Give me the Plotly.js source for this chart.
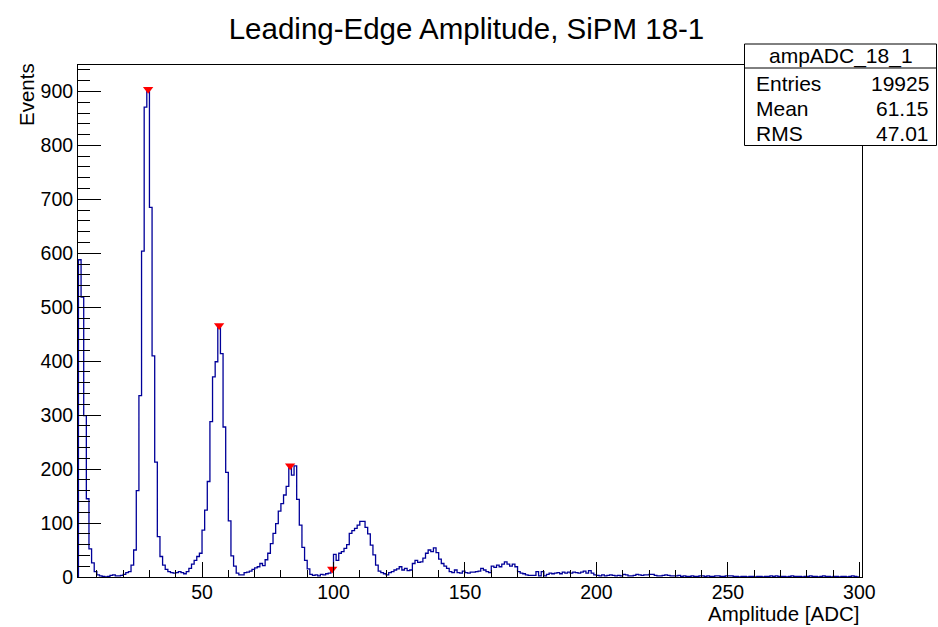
<!DOCTYPE html>
<html>
<head>
<meta charset="utf-8">
<script src="https://cdn.plot.ly/plotly-3.0.1.min.js"></script>
<style>
  html, body { margin: 0; padding: 0; background: #fff; }
  #chart { width: 938px; height: 627px; }
</style>
</head>
<body>
<div id="chart"></div>
<script>
// ---------------- data (1-ADC bins, first bin starts at ADC 3) ----------------
const firstBin = 3;
// ADC 3-21 : pedestal
const pedestalCounts = [588, 519, 299, 145, 52, 26, 10, 4, 2, 1, 0, 1, 3, 4, 2, 2, 3, 5, 8];
// ADC 22-37 : first photo-electron peak
const peak1Counts = [10, 22, 50, 160, 336, 604, 871, 901, 685, 410, 213, 75, 38, 22, 14, 10];
// ADC 38-49 : valley
const valley1Counts = [8, 7, 8, 10, 8, 6, 10, 16, 24, 31, 38, 44];
// ADC 50-62 : second peak
const peak2Counts = [87, 124, 177, 288, 371, 399, 465, 414, 278, 194, 104, 39, 20];
// ADC 63-69 : valley
const valley2Counts = [7, 4, 4, 8, 9, 11, 14];
// ADC 70-91 : third peak
const peak3Counts = [17, 19, 25, 21, 32, 44, 62, 81, 99, 122, 136, 152, 168, 204, 189, 206, 144, 96, 55, 31, 15, 5];
// ADC 92-99 : valley
const valley3Counts = [3, 4, 2, 5, 4, 6, 7, 14];
// ADC 100-117 : fourth peak
const peak4Counts = [42, 31, 44, 47, 53, 60, 81, 86, 90, 96, 103, 103, 92, 80, 59, 41, 22, 11];
// ADC 118-147 : fifth peak
const peak5Counts = [8, 6, 4, 8, 10, 13, 15, 19, 13, 16, 12, 13, 25, 31, 27, 28, 35, 44, 50, 47,
                     54, 45, 33, 25, 20, 16, 10, 8, 13, 8];
// ADC 148-199 : sixth peak and tail
const peak6Counts = [7, 11, 8, 7, 9, 9, 10, 11, 16, 13,
                     10, 8, 20, 18, 22, 19, 24, 28, 24, 20,
                     24, 19, 10, 7, 6, 4, 3, 3, 3, 10,
                     2, 10, 2, 5, 7, 6, 7, 8, 6, 9,
                     7, 9, 7, 9, 8, 7, 9, 11, 7, 12,
                     7, 4];
// ADC 200-299 : far tail
const tailCounts = [3, 2, 4, 2, 3, 4, 3, 2, 3, 2,
                    5, 4, 2, 2, 3, 5, 4, 3, 4, 4,
                    5, 5, 3, 2, 2, 3, 4, 3, 2, 2,
                    2, 3, 1, 2, 1, 1, 2, 1, 1, 2,
                    2, 1, 2, 1, 1, 2, 2, 1, 1, 2,
                    2, 2, 1, 1, 0, 1, 1, 0, 1, 1,
                    0, 1, 1, 0, 1, 1, 2, 1, 2, 1,
                    1, 1, 0, 1, 2, 1, 1, 1, 0, 1,
                    1, 2, 1, 1, 0, 1, 2, 1, 1, 0,
                    1, 1, 0, 1, 1, 0, 1, 2, 1, 0];

// peak-finder markers
const peakX = [29.5, 56.5, 83.5, 99.5];
const peakY = [904, 466, 206, 15];

// stats box texts
const statsName = 'ampADC_18_1';
const statsLabels = ['Entries', 'Mean', 'RMS'];
const statsValues = ['19925', '61.15', '47.01'];

// x tick values / y tick step
const xTickStep = 50;
const yTickStep = 100;

// ---------------- build histogram outline ----------------
const counts = [].concat(pedestalCounts, peak1Counts, valley1Counts, peak2Counts, valley2Counts,
  peak3Counts, valley3Counts, peak4Counts, peak5Counts, peak6Counts, tailCounts);
const hx = [firstBin], hy = [0];
for (let i = 0; i < counts.length; i++) { hx.push(firstBin + i); hy.push(counts[i]); }
hx.push(firstBin + counts.length); hy.push(counts[counts.length - 1]);
hx.push(firstBin + counts.length); hy.push(0);

// ---------------- layout helpers (pixel -> paper) ----------------
const W = 938, H = 627;
const L = 78, R = 862, T = 65, B = 577;
const px = x => (x - L) / (R - L);
const py = y => (B - y) / (B - T);
const FONT = 'Liberation Sans, Arial, Helvetica, sans-serif';

const traces = [
  { x: hx, y: hy, type: 'scatter', mode: 'lines',
    line: { shape: 'hv', color: '#000099', width: 1.3 }, hoverinfo: 'skip', showlegend: false },
  { x: peakX, y: peakY, type: 'scatter', mode: 'markers',
    marker: { symbol: 'triangle-down', size: 9, color: '#ff0000', line: { width: 0 } },
    cliponaxis: false, hoverinfo: 'skip', showlegend: false }
];

const boxL = 744.5, boxR = 936.5, boxT = 44, boxB = 145.5, sepY = 68;
const rowY = [83, 108, 133];

const annotations = [
  { text: 'Events', textangle: -90, x: px(26), y: py(95), xref: 'paper', yref: 'paper',
    xanchor: 'center', yanchor: 'middle', showarrow: false, font: { family: FONT, size: 20.5, color: '#000' } },
  { text: 'Amplitude [ADC]', x: px(862), y: py(613), xref: 'paper', yref: 'paper',
    xanchor: 'right', yanchor: 'middle', showarrow: false, font: { family: FONT, size: 20.5, color: '#000' } },
  { text: statsName, x: px((boxL + boxR) / 2), y: py(56), xref: 'paper', yref: 'paper',
    xanchor: 'center', yanchor: 'middle', showarrow: false, font: { family: FONT, size: 21, color: '#000' } }
];
statsLabels.forEach((lab, i) => {
  annotations.push({ text: lab, x: px(754), y: py(rowY[i]), xref: 'paper', yref: 'paper',
    xanchor: 'left', yanchor: 'middle', showarrow: false, font: { family: FONT, size: 21, color: '#000' } });
  annotations.push({ text: statsValues[i], x: px(931), y: py(rowY[i]), xref: 'paper', yref: 'paper',
    xanchor: 'right', yanchor: 'middle', showarrow: false, font: { family: FONT, size: 21, color: '#000' } });
});

const shapes = [
  { type: 'rect', xref: 'paper', yref: 'paper', x0: px(boxL), x1: px(boxR), y0: py(boxB), y1: py(boxT),
    line: { color: '#000', width: 1 }, fillcolor: '#fff', layer: 'above' },
  { type: 'line', xref: 'paper', yref: 'paper', x0: px(boxL), x1: px(boxR), y0: py(sepY), y1: py(sepY),
    line: { color: '#000', width: 1 }, layer: 'above' }
];

const layout = {
  width: W, height: H,
  margin: { l: L, r: W - R, t: T, b: H - B, pad: 0 },
  paper_bgcolor: '#fff', plot_bgcolor: '#fff',
  showlegend: false,
  title: { text: 'Leading-Edge Amplitude, SiPM 18-1', font: { family: FONT, size: 29.5, color: '#000' },
    x: 466.5 / W, xref: 'container', xanchor: 'center', y: 1 - 29 / H, yref: 'container', yanchor: 'middle' },
  xaxis: {
    range: [2.83, 301.0], tickmode: 'linear', tick0: 0, dtick: xTickStep,
    ticks: 'inside', ticklen: 15, tickwidth: 1, tickcolor: '#000',
    showline: true, mirror: true, linecolor: '#000', linewidth: 1,
    showgrid: false, zeroline: false, ticklabelstandoff: -2,
    tickfont: { family: FONT, size: 19.5, color: '#000' },
    minor: { tick0: 0, dtick: 10, ticks: 'inside', ticklen: 7, tickwidth: 1, tickcolor: '#000', showgrid: false }
  },
  yaxis: {
    range: [0, 949], tickmode: 'linear', tick0: 0, dtick: yTickStep,
    ticks: 'inside', ticklen: 23, tickwidth: 1, tickcolor: '#000',
    showline: true, mirror: true, linecolor: '#000', linewidth: 1,
    showgrid: false, zeroline: false,
    tickfont: { family: FONT, size: 19.5, color: '#000' },
    minor: { tick0: 0, dtick: 20, ticks: 'inside', ticklen: 12, tickwidth: 1, tickcolor: '#000', showgrid: false }
  },
  annotations: annotations,
  shapes: shapes
};

Plotly.newPlot('chart', traces, layout, { staticPlot: true, displayModeBar: false });
</script>
</body>
</html>
